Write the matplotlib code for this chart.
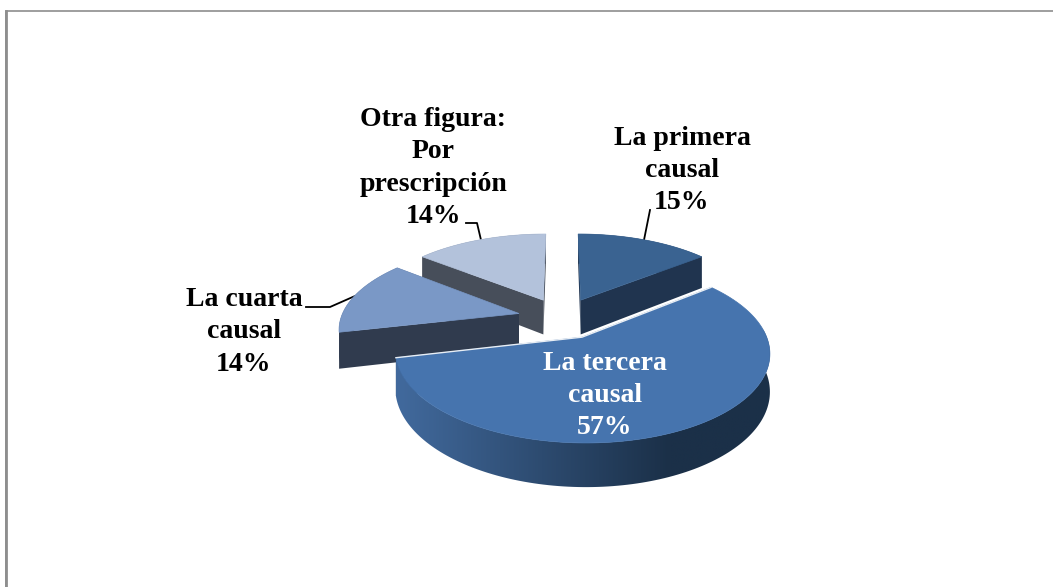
import numpy as np
import matplotlib
matplotlib.use("Agg")
import matplotlib.pyplot as plt
from matplotlib.colors import to_rgb
from matplotlib.patches import Polygon

categories = ["La primera\ncausal", "La tercera\ncausal", "La cuarta\ncausal", "Otra figura:\nPor\nprescripción"]
percent_labels = [15, 57, 14, 14]
slice_sizes = [14.3, 57.1, 14.3, 14.3]
top_colors = ["#3A6391", "#4674AE", "#7A98C6", "#B3C2DB"]
side_colors = ["#20344F", "#1C3048", "#303B4E", "#474E5A"]

# projection parameters (pixels)
X0, Y0, R, B, K, DEPTH, EXPLODE = 562, 318, 178, 82, 0.16, 35.5, 0.25


def project(x, y, z=0.0):
    s = 1.0 / (1.0 + K * np.asarray(y))
    return X0 + R * np.asarray(x) * s, Y0 - B * np.asarray(y) * s + DEPTH * z * s


plt.rcParams["font.family"] = ["Liberation Serif", "DejaVu Serif"]
fig = plt.figure(figsize=(10.53, 5.87), dpi=100)
ax = fig.add_axes([0, 0, 1, 1])
ax.set_xlim(0, 1053)
ax.set_ylim(587, 0)
ax.axis("off")

# chart frame
ax.plot([6, 6, 1053], [587, 10.5, 10.5], color="#8E8E8E", lw=1.2, solid_joinstyle="miter")
ax.plot([6, 6], [587, 10.5], color="#8E8E8E", lw=2.0)

# horizontal shading of the large slice's rim
left_col = np.array(to_rgb("#41699C"))
right_col = np.array(to_rgb("#1B3048"))
grad_x = np.linspace(390, 780, 256)
grad_f = np.clip((grad_x - 400) / 270, 0, 1)[None, :, None]
gradient = left_col[None, None, :] * (1 - grad_f) + right_col[None, None, :] * grad_f

edges = np.cumsum([0] + slice_sizes) / sum(slice_sizes) * 2 * np.pi
order = [3, 2, 0, 1]
for i in order:
    t0, t1 = edges[i], edges[i + 1]
    mid = (t0 + t1) / 2
    ex, ey = EXPLODE * np.sin(mid), EXPLODE * np.cos(mid)
    t = np.linspace(t0, t1, 160)
    rx, ry = np.sin(t) + ex, np.cos(t) + ey
    tx, ty = project(np.r_[ex, rx], np.r_[ey, ry], 0.0)
    bx, by = project(np.r_[ex, rx], np.r_[ey, ry], 1.0)
    z = 2 + order.index(i)
    # cut faces
    for k in (1, len(tx) - 1):
        ax.add_patch(Polygon([(tx[0], ty[0]), (tx[k], ty[k]), (bx[k], by[k]), (bx[0], by[0])],
                             closed=True, fc=side_colors[i], ec="none", zorder=z))
    # outer rim
    rim_xy = np.r_[np.c_[tx[1:], ty[1:]], np.c_[bx[1:], by[1:]][::-1]]
    if i == 1:
        clip = Polygon(rim_xy, closed=True, transform=ax.transData, fc="none", ec="none")
        ax.add_patch(clip)
        im = ax.imshow(gradient, extent=(390, 780, 510, 330), aspect="auto", zorder=z)
        im.set_clip_path(clip)
        ax.set_xlim(0, 1053)
        ax.set_ylim(587, 0)
    else:
        ax.add_patch(Polygon(rim_xy, closed=True, fc=side_colors[i], ec="none", zorder=z))
    ax.add_patch(Polygon(np.c_[tx, ty], closed=True, fc=top_colors[i], ec=top_colors[i], lw=0.5, zorder=z + 0.5))
    if i == 1:
        ax.plot([tx[1], tx[0], tx[-1]], [ty[1], ty[0], ty[-1]], color="#E8EEF5", lw=1.0, zorder=z + 0.6)

# labels
label_pos = [(682, 170.5), (605, 395.5), (244, 332), (433, 168)]
label_col = ["black", "white", "black", "black"]
for name, pct, (x, y), c in zip(categories, percent_labels, label_pos, label_col):
    ax.text(x, y, f"{name}\n{pct}%", ha="center", va="center", ma="center", color=c,
            fontsize=20, fontweight="bold", linespacing=1.37, zorder=10)

# leader lines
for lx, ly in [([466, 477, 481], [223, 223, 240]), ([650, 644], [210, 240]), ([306, 330, 355], [307, 307, 296])]:
    ax.plot(lx, ly, color="black", lw=1.3, zorder=1.5)

fig.savefig("out.png", dpi=100, facecolor="white")
